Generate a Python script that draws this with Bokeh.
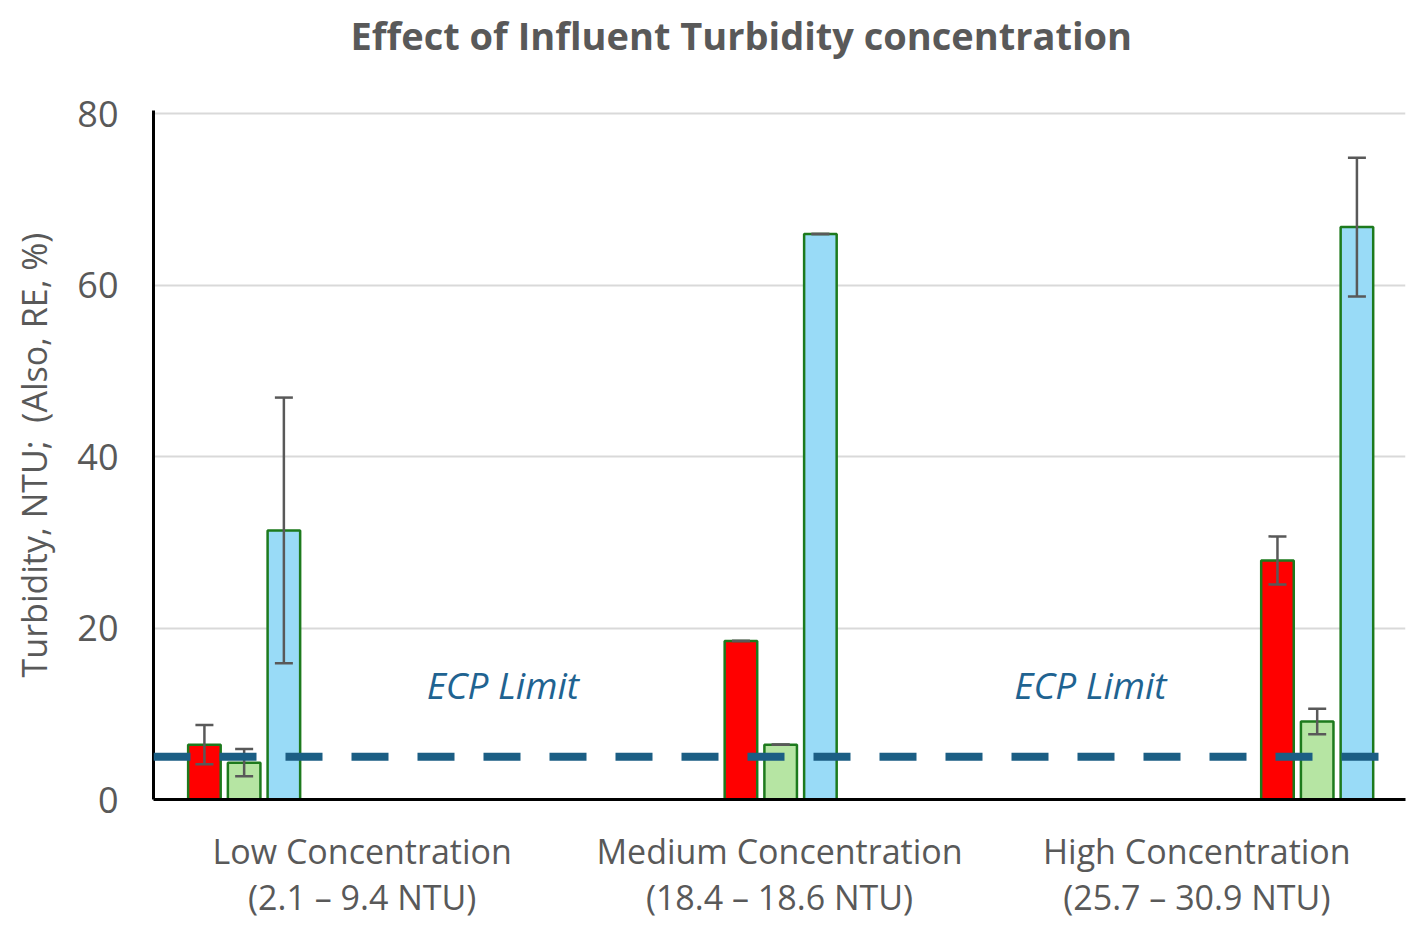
from bokeh.plotting import figure
from bokeh.models import (ColumnDataSource, FactorRange, Range1d, Span, Whisker,
                          TeeHead, FixedTicker, CategoricalAxis, Title)
from bokeh.transform import dodge
from bokeh.core.properties import value
from bokeh.embed import file_html
from bokeh.resources import INLINE

# ---------------- data ----------------
groups = ["Low Concentration", "Medium Concentration", "High Concentration"]
group_ranges = ["(2.1 – 9.4 NTU)", "(18.4 – 18.6 NTU)", "(25.7 – 30.9 NTU)"]
series_names = ["Effluent turbidity", "Filtered turbidity", "Removal efficiency (RE, %)"]
red_vals = [6.4, 18.5, 27.9]
red_err = [2.3, 0.0, 2.8]
green_vals = [4.3, 6.4, 9.1]
green_err = [1.6, 0.0, 1.5]
blue_vals = [31.4, 66.0, 66.8]
blue_err = [15.5, 0.0, 8.1]
ecp_limit = 5
ecp_label = "ECP Limit"
ecp_label_groups = [groups[0], groups[2]]
y_ticks = [0, 20, 40, 60, 80]
title_text = "Effect of Influent Turbidity concentration"
y_label = "Turbidity, NTU;\u00a0\u00a0(Also, RE, %)"

# ---------------- style / layout ----------------
FONT = "Open Sans"
TXT = "#595959"
fills = ["#ff0000", "#b6e5a3", "#99dbf7"]
edge = "#1d7a1d"
bar_w = 0.078
slot = 0.0952
first_off = -0.378

p = figure(x_range=FactorRange(factors=groups, range_padding=0),
           y_range=Range1d(0, 80.4),
           width=1415, height=925, output_backend="svg", toolbar_location=None,
           min_border_left=153, min_border_right=10, min_border_top=110,
           min_border_bottom=126)
p.outline_line_color = None
p.background_fill_color = "white"
p.extra_x_ranges = {"rng": FactorRange(factors=group_ranges, range_padding=0)}

series_vals = [red_vals, green_vals, blue_vals]
series_errs = [red_err, green_err, blue_err]

for gi, g in enumerate(groups):
    for si in range(3):
        k = gi * 3 + si
        off = first_off + k * slot
        v = series_vals[si][gi]
        e = series_errs[si][gi]
        src = ColumnDataSource(dict(x=[g], top=[v], lo=[v - e], hi=[v + e]))
        p.vbar(x=dodge("x", off, range=p.x_range), top="top", bottom=0, width=bar_w,
               source=src, fill_color=fills[si], line_color=edge, line_width=2.5)
        w = Whisker(base=dodge("x", off, range=p.x_range), lower="lo", upper="hi",
                    source=src, line_color=TXT, line_width=2.5, level="overlay",
                    upper_head=TeeHead(size=18, line_color=TXT, line_width=2.5),
                    lower_head=TeeHead(size=18, line_color=TXT, line_width=2.5))
        p.add_layout(w)

p.add_layout(Span(location=ecp_limit, dimension="width", line_color="#1b5e84",
                  line_width=8, line_dash="37 29", level="overlay"))

ecp_offsets = [0.337, -0.255]
for g, off in zip(ecp_label_groups, ecp_offsets):
    s = ColumnDataSource(dict(x=[g], y=[13.4], t=[ecp_label]))
    p.text(x=dodge("x", off, range=p.x_range), y="y", text="t", source=s,
           text_font=value(FONT), text_font_style="italic", text_font_size="37px",
           text_color="#1f6391", text_align="center", text_baseline="middle")

# spacer between frame and title (pushes title upwards)
p.add_layout(Title(text=" ", text_font_size="1px", standoff=45), "above")

# title
p.title.text = title_text
p.title.text_font = FONT
p.title.text_font_size = "38px"
p.title.text_font_style = "bold"
p.title.text_color = TXT
p.title.align = "left"
p.title.offset = 197
p.title.vertical_align = "top"
p.title.standoff = 0

# axes
p.yaxis.ticker = FixedTicker(ticks=y_ticks)
p.yaxis.axis_label = y_label
p.yaxis.axis_label_text_font = FONT
p.yaxis.axis_label_text_font_style = "normal"
p.yaxis.axis_label_text_font_size = "34px"
p.yaxis.axis_label_text_color = TXT
p.yaxis.axis_label_standoff = 17
p.yaxis.major_label_text_font = FONT
p.yaxis.major_label_text_font_size = "36px"
p.yaxis.major_label_text_color = TXT
p.yaxis.major_label_standoff = 29
p.yaxis.axis_line_color = "black"
p.yaxis.axis_line_width = 3

p.xaxis.major_label_text_font = FONT
p.xaxis.major_label_text_font_size = "34px"
p.xaxis.major_label_text_color = TXT
p.xaxis.major_label_standoff = 22
p.xaxis.axis_line_color = "black"
p.xaxis.axis_line_width = 3

ax2 = CategoricalAxis(x_range_name="rng")
ax2.major_label_text_font = FONT
ax2.major_label_text_font_size = "34px"
ax2.major_label_text_color = TXT
ax2.major_label_standoff = -9
ax2.axis_line_color = None
p.add_layout(ax2, "below")

for ax in (p.xaxis, p.yaxis):
    ax.major_tick_line_color = None
    ax.minor_tick_line_color = None

p.xgrid.grid_line_color = None
p.ygrid.grid_line_color = "#d9d9d9"
p.ygrid.grid_line_width = 2

open("out.html", "w").write(file_html(p, INLINE))
